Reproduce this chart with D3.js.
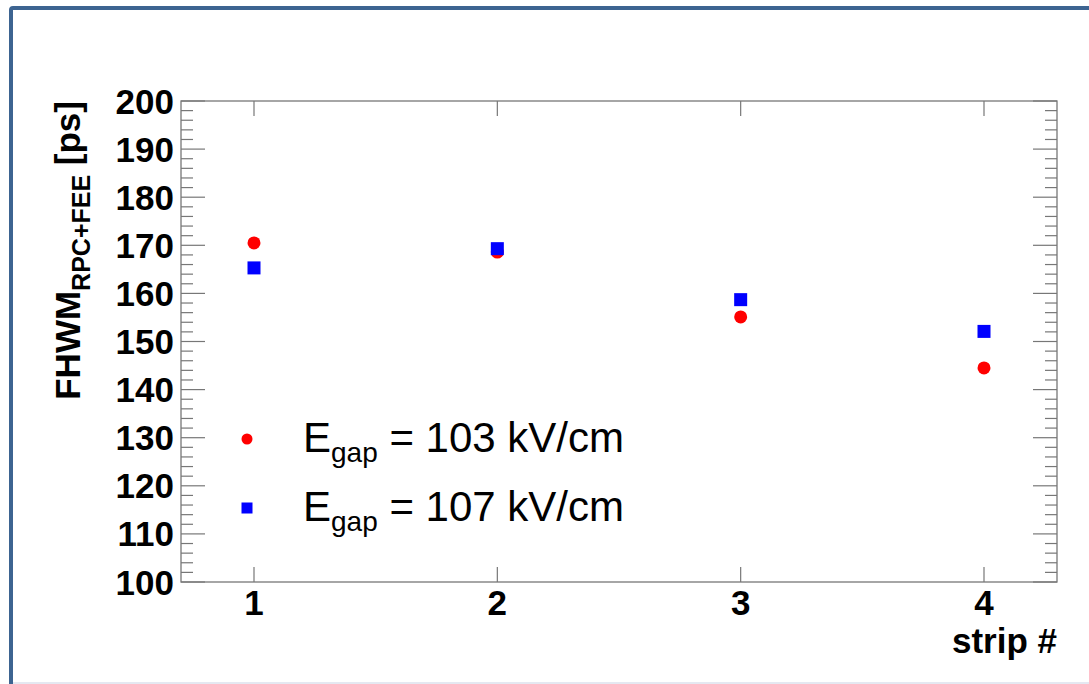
<!DOCTYPE html>
<html>
<head>
<meta charset="utf-8">
<script src="https://cdn.jsdelivr.net/npm/d3@7"></script>
<style>
    body { margin: 0; background: #fff; }
    svg { display: block; font-family: "Liberation Sans", Arial, Helvetica, sans-serif; }
</style>
</head>
<body>
<div id="chart"></div>
<script>
// Data
const strips = [1, 2, 3, 4];
const fwhm103 = [170.5, 168.6, 155.1, 144.5];   // red circles
const fwhm107 = [165.3, 169.3, 158.7, 152.1];   // blue squares
const yTicks = [100, 110, 120, 130, 140, 150, 160, 170, 180, 190, 200];
const legendFields = ["103", "107"];

const config = {
    width: 1089,
    height: 684,
    frame: { left: 181, top: 101, right: 1057, bottom: 582 },
    majorLen: 24,
    minorLen: 12,
    xTickLen: 15,
    axisColor: "#777",
    tickFont: 35
};

const svg = d3.select("#chart")
    .append("svg")
    .attr("width", config.width)
    .attr("height", config.height);

// outer canvas border
svg.append("path")
    .attr("d", `M11,${config.height} V10 Q11,8 13,8 H${config.width}`)
    .attr("fill", "none")
    .attr("stroke", "#3d6491")
    .attr("stroke-width", 4);
svg.append("line")
    .attr("x1", 13).attr("x2", config.width)
    .attr("y1", 683).attr("y2", 683)
    .attr("stroke", "#dde0ec").attr("stroke-width", 1.5);

const f = config.frame;
const x = d3.scaleLinear().domain([0.7, 4.3]).range([f.left, f.right]);
const y = d3.scaleLinear().domain([100, 200]).range([f.bottom, f.top]);

// frame
svg.append("rect")
    .attr("x", f.left).attr("y", f.top)
    .attr("width", f.right - f.left).attr("height", f.bottom - f.top)
    .attr("fill", "none")
    .attr("stroke", config.axisColor)
    .attr("stroke-width", 1.3);

// y ticks (left and right), minor every 2
const yMinor = d3.range(100, 200.1, 2);
const tickG = svg.append("g").attr("stroke", config.axisColor).attr("stroke-width", 1.2);
yMinor.forEach(v => {
    const len = v % 10 === 0 ? config.majorLen : config.minorLen;
    tickG.append("line").attr("x1", f.left).attr("x2", f.left + len)
        .attr("y1", y(v)).attr("y2", y(v));
    tickG.append("line").attr("x1", f.right).attr("x2", f.right - len)
        .attr("y1", y(v)).attr("y2", y(v));
});
strips.forEach(s => {
    tickG.append("line").attr("x1", x(s)).attr("x2", x(s))
        .attr("y1", f.bottom).attr("y2", f.bottom - config.xTickLen);
    tickG.append("line").attr("x1", x(s)).attr("x2", x(s))
        .attr("y1", f.top).attr("y2", f.top + config.xTickLen);
});

// tick labels
svg.selectAll(".ylab")
    .data(yTicks)
    .enter()
    .append("text")
    .attr("class", "ylab")
    .attr("x", f.left - 7)
    .attr("y", d => y(d) + 12.5)
    .attr("text-anchor", "end")
    .style("font-size", config.tickFont + "px")
    .style("font-weight", "bold")
    .text(d => d);

svg.selectAll(".xlab")
    .data(strips)
    .enter()
    .append("text")
    .attr("class", "xlab")
    .attr("x", d => x(d))
    .attr("y", 615)
    .attr("text-anchor", "middle")
    .style("font-size", config.tickFont + "px")
    .style("font-weight", "bold")
    .text(d => d);

// axis titles
svg.append("text")
    .attr("x", f.right)
    .attr("y", 653)
    .attr("text-anchor", "end")
    .style("font-size", "35px")
    .style("font-weight", "bold")
    .text("strip #");

const yTitle = svg.append("text")
    .attr("transform", `translate(80,${f.top}) rotate(-90)`)
    .attr("text-anchor", "end")
    .style("font-size", "35px")
    .style("font-weight", "bold");
yTitle.append("tspan").text("FHWM");
yTitle.append("tspan").attr("dy", 10).style("font-size", "25px").text("RPC+FEE");
yTitle.append("tspan").attr("dy", -10).text(" [ps]");

// data markers
const data103 = strips.map((s, i) => ({ s, v: fwhm103[i] }));
const data107 = strips.map((s, i) => ({ s, v: fwhm107[i] }));

svg.selectAll(".c103")
    .data(data103)
    .enter()
    .append("circle")
    .attr("class", "c103")
    .attr("cx", d => x(d.s))
    .attr("cy", d => y(d.v))
    .attr("r", 6.5)
    .attr("fill", "#ff0000");

const sq = 13;
svg.selectAll(".s107")
    .data(data107)
    .enter()
    .append("rect")
    .attr("class", "s107")
    .attr("x", d => x(d.s) - sq / 2)
    .attr("y", d => y(d.v) - sq / 2)
    .attr("width", sq)
    .attr("height", sq)
    .attr("fill", "#0000ff");

// legend
const legendY = [439, 508];
const leg = svg.append("g");
leg.append("circle").attr("cx", 247).attr("cy", legendY[0]).attr("r", 5.5).attr("fill", "#ff0000");
leg.append("rect").attr("x", 241.5).attr("y", legendY[1] - 5.5)
    .attr("width", 11).attr("height", 11).attr("fill", "#0000ff");

legendFields.forEach((kv, i) => {
    const t = leg.append("text")
        .attr("x", 303)
        .attr("y", legendY[i] + 13)
        .style("font-size", "42px");
    t.append("tspan").text("E");
    t.append("tspan").attr("dy", 10).style("font-size", "28px").text("gap");
    t.append("tspan").attr("dy", -10).text(` = ${kv} kV/cm`);
});
</script>
</body>
</html>
